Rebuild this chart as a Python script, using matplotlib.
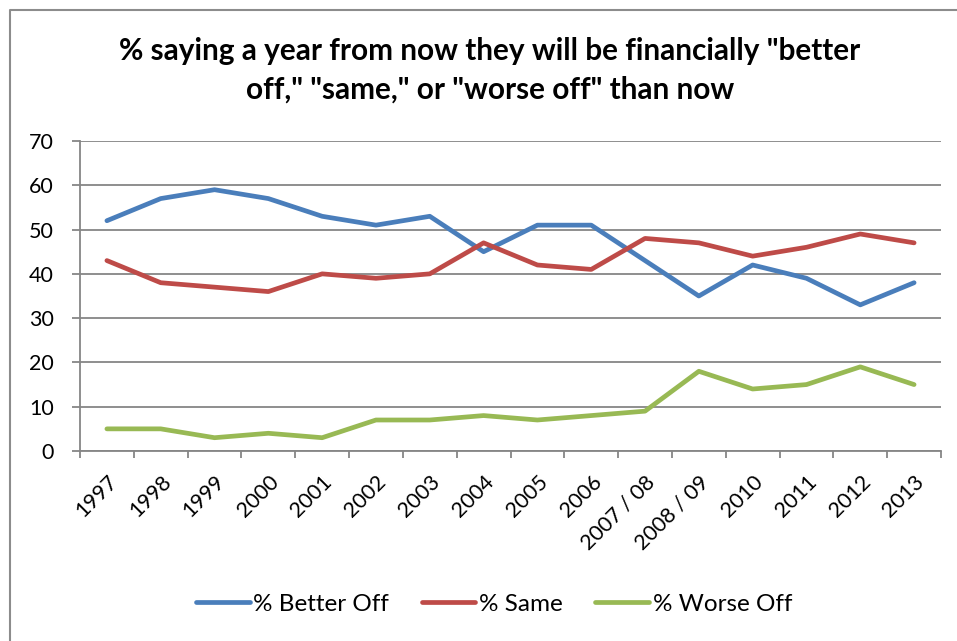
import matplotlib.pyplot as plt
import matplotlib.transforms as mtrans
import numpy as np
from matplotlib.lines import Line2D

plt.rcParams['font.family'] = ['Lato', 'DejaVu Sans']

years = ["1997", "1998", "1999", "2000", "2001", "2002", "2003", "2004",
         "2005", "2006", "2007 / 08", "2008 / 09", "2010", "2011", "2012", "2013"]
better = [52, 57, 59, 57, 53, 51, 53, 45, 51, 51, 43, 35, 42, 39, 33, 38]
same = [43, 38, 37, 36, 40, 39, 40, 47, 42, 41, 48, 47, 44, 46, 49, 47]
worse = [5, 5, 3, 4, 3, 7, 7, 8, 7, 8, 9, 18, 14, 15, 19, 15]

W, H = 957, 641
grid_col = "#868686"

fig = plt.figure(figsize=(W / 100, H / 100), dpi=100)
ax = fig.add_axes([80 / W, 1 - 451 / H, (941 - 80) / W, (451 - 141) / H])

x = np.arange(len(years))
ax.plot(x, better, color="#4A7EBB", lw=3.4, label="% Better Off", solid_capstyle="round")
ax.plot(x, same, color="#BE4B48", lw=3.4, label="% Same", solid_capstyle="round")
ax.plot(x, worse, color="#98B954", lw=3.4, label="% Worse Off", solid_capstyle="round")

ax.set_xlim(-0.5, len(years) - 0.5)
ax.set_ylim(0, 70)
ax.set_yticks(range(0, 71, 10))
ax.yaxis.grid(True, color=grid_col, lw=1.3)
ax.set_axisbelow(True)

ax.set_xticks(x)
ax.set_xticklabels(years, rotation=45, ha="right", va="top", rotation_mode="anchor", fontsize=15.5)
shift = mtrans.ScaledTranslation(4 / 100, 0, fig.dpi_scale_trans)
for lab in ax.get_xticklabels():
    lab.set_transform(lab.get_transform() + shift)
ax.set_xticks(np.arange(-0.5, len(years)), minor=True)
ax.tick_params(axis="x", which="major", length=0, pad=15)
ax.tick_params(axis="x", which="minor", length=5, color=grid_col, width=1.3)
ax.tick_params(axis="y", length=6, color=grid_col, width=1.3, labelsize=15.5, pad=13)

for s in ["top", "right"]:
    ax.spines[s].set_visible(False)
for s in ["left", "bottom"]:
    ax.spines[s].set_color(grid_col)
    ax.spines[s].set_linewidth(1.3)

fig.text(490 / W, 1 - 60 / H, '% saying a year from now they will be financially "better',
         ha="center", va="baseline", fontsize=21.4, fontweight="bold")
fig.text(490 / W, 1 - 99 / H, 'off," "same," or "worse off" than now',
         ha="center", va="baseline", fontsize=21.4, fontweight="bold")

fig.legend(loc="center", bbox_to_anchor=(494 / W, 1 - 604 / H), ncol=3, frameon=False,
           fontsize=17.5, handlelength=2.2, handletextpad=0.15, columnspacing=1.35)

# chart frame: only the top and left edges are in the picture
fig.add_artist(Line2D([10 / W, 10 / W, 1], [0, 1 - 10 / H, 1 - 10 / H],
                      transform=fig.transFigure, color="#8C8C8C", lw=1.5))

fig.savefig("out.png", dpi=100)
